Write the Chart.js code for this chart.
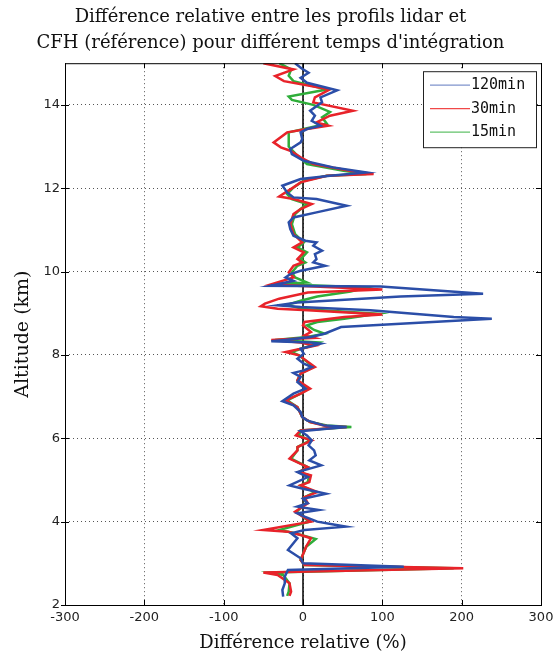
<!DOCTYPE html>
<html>
<head>
<meta charset="utf-8">
<script src="https://cdn.jsdelivr.net/npm/chart.js@4"></script>
<style>
  html, body { margin: 0; padding: 0; background: #fff; }
  #wrap { width: 559px; height: 657px; }
</style>
</head>
<body>
<div id="wrap"><canvas id="profilChart" width="559" height="657"></canvas></div>
<script>
// axes
const xTicks = [-300, -200, -100, 0, 100, 200, 300];
const yTicks = [2, 4, 6, 8, 10, 12, 14];
const seriesLabels = ["120min", "30min", "15min"];

// 120min (bleu) : altitude (km) et difference relative (%)
const alt120 = [15.00, 14.88, 14.77, 14.65, 14.53, 14.35, 14.18, 14.06, 13.86, 13.74, 13.62, 13.50, 13.42, 13.34, 13.18, 13.10,
  12.94, 12.82, 12.66, 12.50, 12.38, 12.30, 12.22, 12.06, 11.90, 11.78, 11.74, 11.58, 11.42, 11.30, 11.18, 11.02,
  10.86, 10.74, 10.70, 10.62, 10.50, 10.42, 10.30, 10.22, 10.14, 10.02, 9.94, 9.86, 9.78, 9.66, 9.64, 9.47,
  9.40, 9.26, 9.19, 9.15, 9.07, 8.91, 8.87, 8.75, 8.67, 8.51, 8.43, 8.36, 8.33, 8.30, 8.27, 8.15,
  8.03, 7.91, 7.79, 7.71, 7.63, 7.57, 7.47, 7.35, 7.19, 7.07, 6.89, 6.79, 6.63, 6.51, 6.43, 6.31,
  6.27, 6.23, 6.17, 6.07, 5.95, 5.83, 5.71, 5.59, 5.47, 5.35, 5.19, 5.07, 4.87, 4.79, 4.67, 4.55,
  4.44, 4.36, 4.28, 4.20, 4.12, 4.00, 3.88, 3.80, 3.72, 3.60, 3.32, 3.12, 3.00, 2.92, 2.84, 2.68,
  2.52, 2.36, 2.20];
const diff120 = [-10, -2, 7, -3, 5, 43, 22, 24, 9, 15, 11, 22, 5, -3, -1, -3,
  -16, -14, 1, 38, 80, 34, -3, -26, -20, -12, 17, 55, 17, -12, -18, -16,
  -12, 3, 17, 13, 24, 15, 17, 13, 28, -3, -16, -22, -12, -41, 98, 227,
  123, -7, -32, -3, 85, 190, 238, 123, 48, 27, 10, -23, -40, 10, 22, -3,
  1, -7, 1, 11, 1, -12, -3, -7, 3, -12, -26, -12, -3, -1, 5, 26,
  55, 30, -3, 5, 11, 7, 14, 16, 8, 23, -7, 6, -17, 0, 29, 0,
  6, -7, 20, -7, 2, 18, 54, 2, -15, -7, -19, -3, 0, 127, -19, -23,
  -23, -26, -25];

// 30min (rouge)
const alt30 = [15.00, 14.85, 14.69, 14.57, 14.37, 14.18, 14.06, 13.86, 13.74, 13.58, 13.50, 13.42, 13.34, 13.10, 12.98, 12.90,
  12.74, 12.58, 12.42, 12.34, 12.30, 12.14, 12.02, 11.90, 11.80, 11.74, 11.62, 11.50, 11.38, 11.14, 10.90, 10.70,
  10.58, 10.46, 10.30, 10.22, 10.14, 9.98, 9.86, 9.69, 9.57, 9.50, 9.35, 9.23, 9.17, 9.11, 9.07, 8.97,
  8.91, 8.79, 8.71, 8.55, 8.47, 8.41, 8.36, 8.30, 8.22, 8.07, 7.99, 7.71, 7.55, 7.39, 7.19, 7.07,
  6.91, 6.75, 6.51, 6.39, 6.29, 6.27, 6.19, 6.07, 5.95, 5.79, 5.71, 5.51, 5.31, 5.19, 5.11, 4.95,
  4.87, 4.71, 4.59, 4.44, 4.24, 4.12, 4.00, 3.80, 3.76, 3.68, 3.60, 3.40, 3.08, 2.96, 2.88, 2.78,
  2.72, 2.52, 2.32, 2.22];
const diff30 = [-50, -12, -35, -24, 34, 15, 13, 63, 34, 17, 32, 5, -20, -37, -28, -16,
  -3, 13, 59, 89, 30, -3, -12, -22, -30, -12, 11, -3, -12, -16, -12, -1,
  -12, 1, -7, -1, -12, -18, -12, -41, 100, 6, -30, -48, -53, -32, 6, 100,
  52, 2, 0, 10, 2, 14, -40, -3, 15, -22, -5, 15, -3, -7, 9, -3,
  -22, -7, -1, 9, 30, 55, -3, -9, 11, -7, -7, -17, 6, -5, 10, 8,
  -3, 18, 2, 6, -10, 0, 10, -50, -19, -3, 10, 4, -3, 2, 202, -50,
  -32, -17, -15, -17];

// 15min (vert)
const alt15 = [15.00, 14.85, 14.70, 14.57, 14.37, 14.20, 14.12, 14.00, 13.83, 13.70, 13.55, 13.42, 13.34, 13.00, 12.80, 12.58,
  12.42, 12.34, 12.30, 12.18, 12.02, 11.86, 11.74, 11.62, 11.50, 11.38, 11.14, 10.90, 10.70, 10.58, 10.46, 10.30,
  10.22, 10.14, 9.98, 9.86, 9.74, 9.70, 9.62, 9.52, 9.40, 9.30, 9.20, 9.10, 8.99, 8.87, 8.79, 8.71,
  8.60, 8.51, 8.43, 8.36, 8.30, 8.22, 8.07, 7.99, 7.71, 7.55, 7.39, 7.19, 7.07, 6.91, 6.75, 6.51,
  6.39, 6.31, 6.27, 6.19, 6.07, 5.95, 5.79, 5.71, 5.51, 5.31, 5.19, 5.11, 4.95, 4.87, 4.71, 4.59,
  4.44, 4.24, 4.12, 4.00, 3.80, 3.72, 3.58, 3.40, 3.08, 2.96, 2.88, 2.78, 2.72, 2.52, 2.32, 2.22];
const diff15 = [-30, -15, -18, -12, 30, -18, -14, 13, 34, 24, 30, 1, -18, -18, -8, 5,
  51, 80, 30, 1, -12, -20, -14, 5, -3, -10, -14, -10, 1, -7, 5, -3,
  3, -7, -14, -10, 5, -35, 81, 60, 18, -3, -20, 0, 94, 52, 18, 5,
  14, 27, 5, -35, 20, 10, -15, -5, 13, -3, -7, 7, -3, -20, -7, -1,
  9, 30, 61, -3, -5, 9, -7, -7, -15, 6, -5, 8, 6, -3, 15, 2,
  4, -8, 0, 8, -30, -10, 16, 4, -3, 2, 190, -40, -25, -17, -18, -20];

const toPoints = (alts, diffs) => alts.map((a, i) => ({ x: diffs[i], y: a }));

const serif = "'DejaVu Serif', serif";
const tickFont = { family: "'DejaVu Sans', sans-serif", size: 13 };

const matlabFrame = {
    id: "matlabFrame",
    beforeDatasetsDraw(chart) {
        const { ctx, chartArea, scales } = chart;
        const x0 = scales.x.getPixelForValue(0);
        ctx.save();
        ctx.strokeStyle = "#000";
        ctx.lineWidth = 1.5;
        ctx.beginPath();
        ctx.moveTo(x0, chartArea.top);
        ctx.lineTo(x0, chartArea.bottom);
        ctx.stroke();
        ctx.restore();
    },
    afterDatasetsDraw(chart) {
        const { ctx, chartArea, scales } = chart;
        const { left, right, top, bottom } = chartArea;
        ctx.save();
        ctx.strokeStyle = "#000";
        ctx.lineWidth = 1;
        ctx.strokeRect(left + 0.5, top + 0.5, right - left, bottom - top);
        ctx.beginPath();
        xTicks.forEach((v) => {
            const px = Math.round(scales.x.getPixelForValue(v)) + 0.5;
            ctx.moveTo(px, bottom); ctx.lineTo(px, bottom - 5);
            ctx.moveTo(px, top); ctx.lineTo(px, top + 5);
        });
        yTicks.forEach((v) => {
            const py = Math.round(scales.y.getPixelForValue(v)) + 0.5;
            ctx.moveTo(left - 4, py); ctx.lineTo(left + 4, py);
            ctx.moveTo(right, py); ctx.lineTo(right - 5, py);
        });
        ctx.stroke();

        // legende dans le cadre
        const bw = 113, bh = 76;
        const bx = right - bw - 5, by = top + 8;
        ctx.fillStyle = "#fff";
        ctx.fillRect(bx, by, bw, bh);
        ctx.strokeStyle = "#222";
        ctx.strokeRect(bx + 0.5, by + 0.5, bw, bh);
        ctx.font = "15px 'DejaVu Sans Mono', monospace";
        ctx.textBaseline = "middle";
        chart.data.datasets.forEach((ds, i) => {
            const ly = by + 14 + i * 23.5;
            ctx.strokeStyle = ds.legendColor;
            ctx.lineWidth = 1.2;
            ctx.beginPath();
            ctx.moveTo(bx + 7, ly);
            ctx.lineTo(bx + 47, ly);
            ctx.stroke();
            ctx.fillStyle = "#111";
            ctx.fillText(ds.label, bx + 48, ly);
        });
        ctx.restore();
    },
};

const speedCanvas = document.getElementById("profilChart");
const profilChart = new Chart(speedCanvas, {
    type: "scatter",
    data: {
        datasets: [
            {
                label: seriesLabels[0],
                data: toPoints(alt120, diff120),
                borderColor: "#2b4ea8",
                legendColor: "#7f93cc",
            },
            {
                label: seriesLabels[1],
                data: toPoints(alt30, diff30),
                borderColor: "#e8232a",
                legendColor: "#f04848",
            },
            {
                label: seriesLabels[2],
                data: toPoints(alt15, diff15),
                borderColor: "#2fae3a",
                legendColor: "#62c26a",
            },
        ],
    },
    options: {
        responsive: false,
        animation: false,
        showLine: true,
        elements: {
            point: { radius: 0, hoverRadius: 0 },
            line: { borderWidth: 2.5, tension: 0 },
        },
        layout: { padding: { left: 0, right: 18, top: 0, bottom: 0 } },
        plugins: {
            legend: { display: false },
            tooltip: { enabled: false },
            title: {
                display: true,
                text: [
                    "Différence relative entre les profils lidar et",
                    "CFH (référence) pour différent temps d'intégration",
                ],
                color: "#111",
                font: { family: serif, size: 18, weight: "normal", lineHeight: 1.45 },
                padding: { top: 4, bottom: 7 },
            },
        },
        scales: {
            x: {
                type: "linear",
                min: -300,
                max: 300,
                afterBuildTicks: (s) => { s.ticks = xTicks.map((v) => ({ value: v })); },
                afterFit: (s) => { s.height = 52; },
                ticks: { font: tickFont, color: "#222", padding: 5, maxRotation: 0 },
                grid: { color: "#555", lineWidth: 1, drawTicks: false },
                border: { display: false, dash: [1, 3] },
                title: {
                    display: true,
                    text: "Différence relative (%)",
                    color: "#111",
                    font: { family: serif, size: 18 },
                    padding: { top: 0, bottom: 3 },
                },
            },
            y: {
                type: "linear",
                min: 2,
                max: 15,
                afterBuildTicks: (s) => { s.ticks = yTicks.map((v) => ({ value: v })); },
                afterFit: (s) => { s.width = 65; },
                ticks: { font: tickFont, color: "#222", padding: 5 },
                grid: { color: "#555", lineWidth: 1, drawTicks: false },
                border: { display: false, dash: [1, 3] },
                title: {
                    display: true,
                    text: "Altitude (km)",
                    color: "#111",
                    font: { family: serif, size: 19 },
                    padding: { top: 12, bottom: 0 },
                },
            },
        },
    },
    plugins: [matlabFrame],
});
</script>
</body>
</html>
